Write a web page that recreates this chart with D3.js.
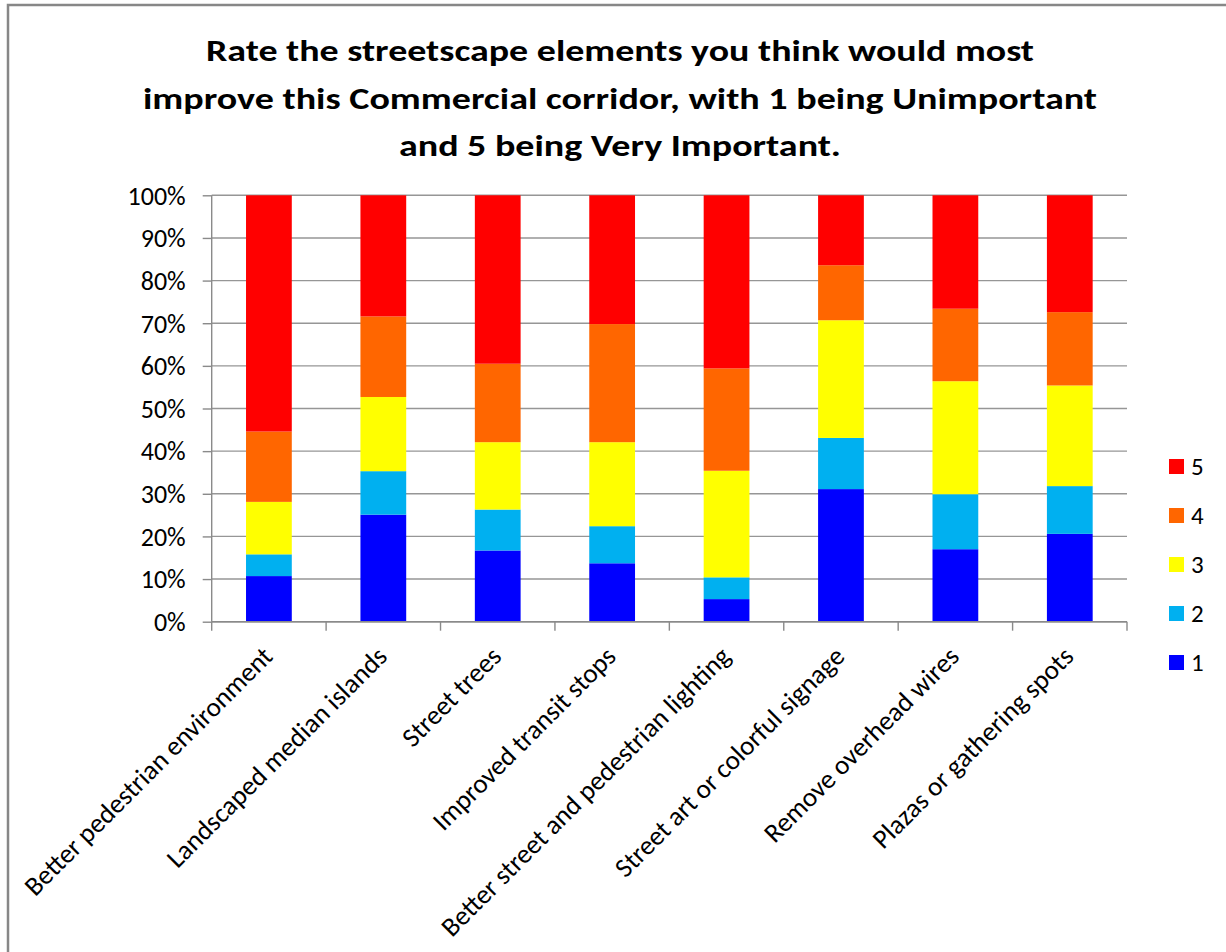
<!DOCTYPE html>
<html>
<head>
<meta charset="utf-8">
<script src="https://cdn.jsdelivr.net/npm/d3@7"></script>
<style>
  html, body { margin: 0; padding: 0; background: #fff; }
  svg { display: block; }
  text { font-family: Carlito, "Liberation Sans", Arial, sans-serif; fill: #000; }
</style>
</head>
<body>
<svg id="chart" width="1226" height="952"></svg>
<script>
const titleLines = [
  "Rate the streetscape elements you think would most",
  "improve this Commercial corridor, with 1 being Unimportant",
  "and 5 being Very Important."
];
const categories = [
  "Better pedestrian environment",
  "Landscaped median islands",
  "Street trees",
  "Improved transit stops",
  "Better street and pedestrian lighting",
  "Street art or colorful signage",
  "Remove overhead wires",
  "Plazas or gathering spots"
];
const seriesNames = ["1", "2", "3", "4", "5"];
const rating1 = [10.7, 25.1, 16.7, 13.7, 5.3, 31.1, 17.0, 20.6];
const rating2 = [5.1, 10.2, 9.6, 8.7, 5.1, 12.0, 12.9, 11.2];
const rating3 = [12.3, 17.4, 15.8, 19.7, 25.0, 27.6, 26.5, 23.6];
const rating4 = [16.5, 18.9, 18.4, 27.7, 24.0, 12.9, 17.0, 17.2];
const rating5 = [55.4, 28.4, 39.5, 30.2, 40.6, 16.4, 26.6, 27.4];
const yTicks = [0, 10, 20, 30, 40, 50, 60, 70, 80, 90, 100];
const colors = ["#0000FF", "#00B0F0", "#FFFF00", "#FF6600", "#FF0000"];

(function () {
const seriesValues = [rating1, rating2, rating3, rating4, rating5];
const rows = categories.map((c, i) => {
  const r = { category: c };
  seriesNames.forEach((s, k) => r[s] = seriesValues[k][i]);
  return r;
});

const svg = d3.select("#chart");
const FONT = 'Carlito, "Liberation Sans", Arial, sans-serif';

// outer frame
svg.append("rect")
  .attr("x", 8).attr("y", 5).attr("width", 1400).attr("height", 1200)
  .attr("fill", "#fff").attr("stroke", "#878787").attr("stroke-width", 2.5);

const plotLeft = 211.7, plotRight = 1127, plotTop = 195.3, plotBottom = 621.7;

const x = d3.scaleBand().domain(categories).range([plotLeft, plotRight])
  .paddingInner(0.6).paddingOuter(0.3);
const y = d3.scaleLinear().domain([0, 100]).range([plotBottom, plotTop]);
const color = d3.scaleOrdinal().domain(seriesNames).range(colors);

// title
const title = svg.append("g");
const titleBaselines = [61, 108.5, 156];
const titleWidths = [828, 954, 442];
titleLines.forEach((t, i) => {
  const el = title.append("text")
    .attr("x", 620).attr("y", titleBaselines[i])
    .attr("text-anchor", "middle")
    .style("font-weight", "bold").style("font-size", "30.5px")
    .text(t);
  const w = el.node().getComputedTextLength();
  if (Math.abs(w - titleWidths[i]) > 6) {
    el.attr("textLength", titleWidths[i]).attr("lengthAdjust", "spacingAndGlyphs");
  }
});

// gridlines
svg.append("g").selectAll("line").data(yTicks).join("line")
  .attr("x1", plotLeft).attr("x2", plotRight)
  .attr("y1", d => y(d)).attr("y2", d => y(d))
  .attr("stroke", "#969696").attr("stroke-width", 1.4);

// bars
const stacked = d3.stack().keys(seriesNames)(rows);
svg.append("g").selectAll("g").data(stacked).join("g")
  .attr("fill", d => color(d.key))
  .selectAll("rect").data(d => d).join("rect")
  .attr("x", d => x(d.data.category))
  .attr("width", x.bandwidth())
  .attr("y", d => y(d[1]))
  .attr("height", d => y(d[0]) - y(d[1]));

// y axis
const yAxis = svg.append("g").attr("transform", `translate(${plotLeft},0)`)
  .call(d3.axisLeft(y).tickValues(yTicks).tickSize(9).tickPadding(17).tickFormat(d => d + "%"));
yAxis.select(".domain").attr("stroke", "#8a8a8a").attr("stroke-width", 1.4).attr("d", `M0,${plotBottom}V${plotTop}`);
yAxis.selectAll(".tick line").attr("stroke", "#8a8a8a").attr("stroke-width", 1.4);
yAxis.selectAll(".tick text").style("font-size", "26px").style("font-family", FONT).attr("fill", "#000").attr("dy", "0.34em");

// x axis line and ticks at band boundaries
const xAxisG = svg.append("g");
xAxisG.append("line").attr("x1", plotLeft).attr("x2", plotRight).attr("y1", plotBottom).attr("y2", plotBottom)
  .attr("stroke", "#8a8a8a").attr("stroke-width", 1.4);
const boundaries = d3.range(categories.length + 1).map(i => plotLeft + i * x.step());
xAxisG.selectAll("line.tk").data(boundaries).join("line").attr("class", "tk")
  .attr("x1", d => d).attr("x2", d => d).attr("y1", plotBottom).attr("y2", plotBottom + 9)
  .attr("stroke", "#8a8a8a").attr("stroke-width", 1.4);

// x labels
xAxisG.selectAll("text").data(categories).join("text")
  .attr("text-anchor", "end")
  .attr("transform", d => `translate(${x(d) + x.bandwidth() / 2 - 8},${plotBottom + 23}) rotate(-45)`)
  .attr("dy", "0.7em")
  .style("font-size", "27px")
  .text(d => d);

// legend
const legend = svg.append("g");
const legendItems = seriesNames.slice().reverse();
legendItems.forEach((s, i) => {
  const cy = 466 + i * 49;
  legend.append("rect").attr("x", 1169).attr("y", cy - 7).attr("width", 15).attr("height", 15)
    .attr("fill", color(s));
  legend.append("text").attr("x", 1191).attr("y", cy).attr("dy", "0.34em")
    .style("font-size", "25px").text(s);
});
})();
</script>
</body>
</html>
